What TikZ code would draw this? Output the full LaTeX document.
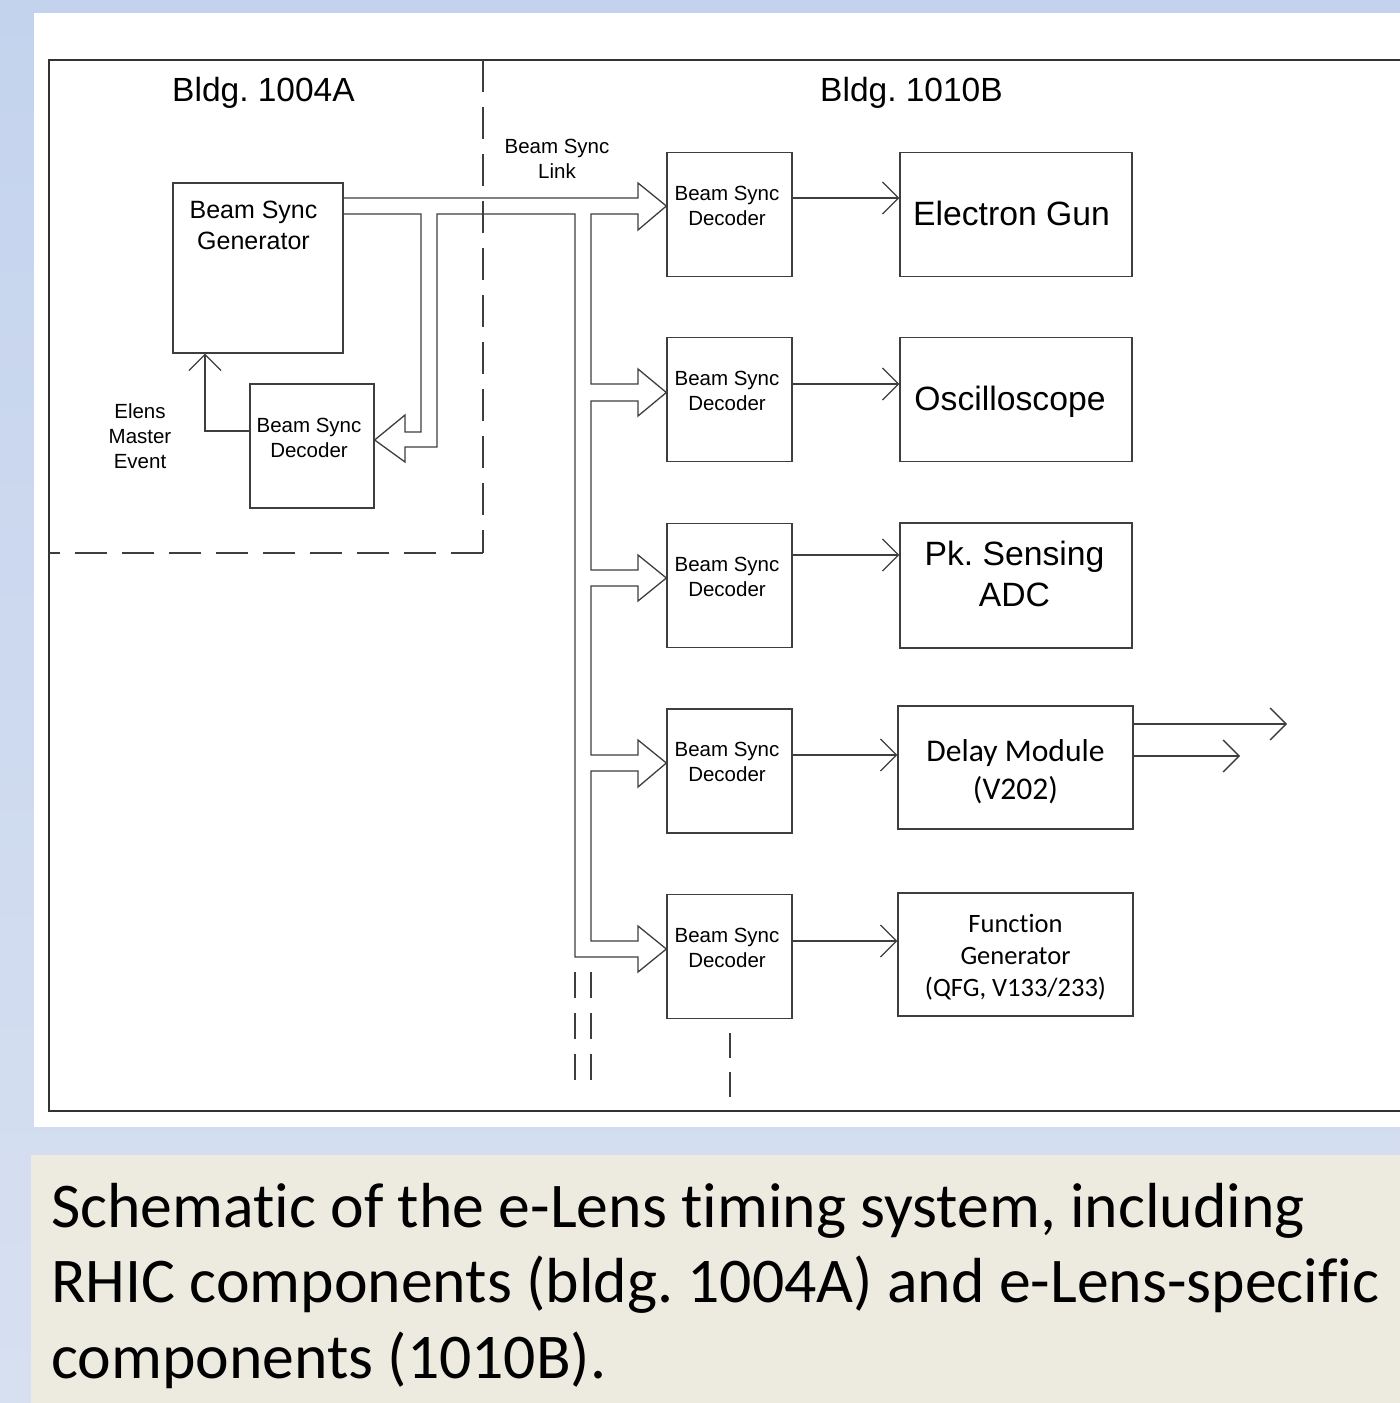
\documentclass[tikz,border=0pt]{standalone}
\usepackage{fontspec}
\setmainfont{Liberation Sans}
\newfontfamily\carlito[Ligatures=NoCommon]{Carlito}
\usetikzlibrary{arrows.meta}
\definecolor{bgtop}{RGB}{196,211,237}
\definecolor{bgbot}{RGB}{215,224,241}
\definecolor{capbg}{RGB}{237,235,224}
\definecolor{ink}{RGB}{62,62,62}
\frenchspacing
\begin{document}
\begin{tikzpicture}[x=1pt,y=-1pt,
  ln/.style={draw=ink, line width=1.3pt, line join=miter},
  bx/.style={ln, rectangle, inner sep=0pt, minimum width=125pt, minimum height=124pt},
  pbx/.style={bx, minimum width=232pt},
  qbx/.style={bx, minimum width=235pt, minimum height=123pt},
  arr/.style={ln, -{Straight Barb[length=16pt,width=32pt]}},
  dsh/.style={ln, dash pattern=on 32pt off 15pt},
  sm/.style={font=\fontsize{20.5}{25}\selectfont, align=center, inner sep=0pt},
  md/.style={font=\fontsize{25}{31}\selectfont, align=center, inner sep=0pt},
  bl/.style={font=\fontsize{33.5}{40}\selectfont, inner sep=0pt, anchor=base},
  bg/.style={font=\fontsize{33.7}{41}\selectfont, align=center, inner sep=0pt},
  cl/.style={font=\carlito\fontsize{31.6}{38}\selectfont, align=center, inner sep=0pt},
  cs/.style={font=\carlito\fontsize{26.5}{32}\selectfont, align=center, inner sep=0pt},
  captxt/.style={font=\carlito\fontsize{63.7}{75.5}\selectfont, inner sep=0pt, anchor=base west}]
\useasboundingbox (0,0) rectangle (1400,1403);
% background
\shade[top color=bgtop, bottom color=bgbot] (0,0) rectangle (1400,1403);
\fill[white] (34,13) rectangle (1400,1127);
\fill[capbg] (31,1155) rectangle (1400,1403);
% frame
\draw[ln, draw=black!80] (1400,60) -- (49,60) -- (49,1111) -- (1400,1111);
% building boundary
\draw[dsh] (483,60) -- (483,553);
\draw[dsh] (483,553) -- (49,553);
\node[bl] (b1) at (263.5,101) {Bldg. 1004A};
\node[bl] (b2) at (911.5,101) {Bldg. 1010B};
% boxes
\node[bx, minimum width=170pt, minimum height=170pt] (gen) at (258,268) {};
\node[md] (gent) at (253.5,225.5) {Beam Sync\\Generator};
\node[bx, minimum width=124pt] (ld) at (312,446) {};
\node[sm] (ldt) at (309,437.5) {Beam Sync\\Decoder};
\node[sm] (elens) at (140,436.5) {Elens\\Master\\Event};
\node[sm] (link) at (557,159) {Beam Sync\\Link};
\foreach \n/\y in {1/214.5,2/399.5,3/585.5,4/771,5/956.5}{
  \node[bx] (d\n) at (729.5,\y) {};
  \node[sm] (d\n t) at (727,\y-9) {Beam Sync\\Decoder};
}
\node[pbx] (p1) at (1016,214.5) {};
\node[pbx] (p2) at (1016,399.5) {};
\node[pbx, minimum height=125pt] (p3) at (1016,585.5) {};
\node[qbx] (p4) at (1015.5,767.5) {};
\node[qbx] (p5) at (1015.5,954.5) {};
\node[bg, anchor=base] (p1t) at (1011.5,225) {Electron Gun};
\node[bg, anchor=base] (p2t) at (1010,410) {Oscilloscope};
\node[bg] (p3t) at (1014.5,573.7) {Pk. Sensing\\ADC};
\node[cl] (p4t) at (1015.5,771.5) {Delay Module\\(V202)};
\node[cs] (p5t) at (1015.5,957.5) {Function\\Generator\\(QFG, V133/233)};
% sync link bus (hollow arrows)
\draw[ln] (gen.east |- 0,198) -- (638,198) -- (638,183) -- (d1.west |- 0,206) -- (638,230) -- (638,214) -- (591,214)
  -- (591,384) -- (638,384) -- (638,369) -- (d2.west |- 0,392.5) -- (638,416) -- (638,401) -- (591,401)
  -- (591,570) -- (638,570) -- (638,555) -- (d3.west |- 0,578) -- (638,601) -- (638,586) -- (591,586)
  -- (591,755) -- (638,755) -- (638,740) -- (d4.west |- 0,763) -- (638,787) -- (638,771) -- (591,771)
  -- (591,941) -- (638,941) -- (638,926) -- (d5.west |- 0,949) -- (638,972) -- (638,957) -- (575,957)
  -- (575,214) -- (437,214) -- (437,447) -- (405,447) -- (405,462) -- (ld.east |- 0,440) -- (405,415)
  -- (405,432) -- (421,432) -- (421,214) -- (gen.east |- 0,214);
% bus continuation
\coordinate (e1) at (575,1080);
\coordinate (e2) at (591,1080);
\coordinate (e3) at (730,1097);
\draw[ln, dash pattern=on 26pt off 15pt] (575,972) -- (e1);
\draw[ln, dash pattern=on 26pt off 15pt] (591,972) -- (e2);
\draw[ln, dash pattern=on 25pt off 14pt] (730,1033) -- (e3);
% master event
\draw[arr] (ld.west |- 0,431) -| (gen.south -| 205,0);
% decoder outputs
\draw[arr] (d1.east |- 0,198) -- (p1.west |- 0,198);
\draw[arr] (d2.east |- 0,384) -- (p2.west |- 0,384);
\draw[arr] (d3.east |- 0,555) -- (p3.west |- 0,555);
\draw[arr] (d4.east |- 0,755) -- (p4.west |- 0,755);
\draw[arr] (d5.east |- 0,941) -- (p5.west |- 0,941);
\coordinate (o1) at (1287,724);
\coordinate (o2) at (1240,756);
\draw[arr] (p4.east |- 0,724) -- (o1);
\draw[arr] (p4.east |- 0,756) -- (o2);
% caption
\node[captxt] (c1) at (51,1227) {Schematic of the e-Lens timing system, including};
\node[captxt] (c2) at (51,1302.5) {RHIC components (bldg. 1004A) and e-Lens-specific};
\node[captxt] (c3) at (51,1378) {components (1010B).};
\end{tikzpicture}
\end{document}
